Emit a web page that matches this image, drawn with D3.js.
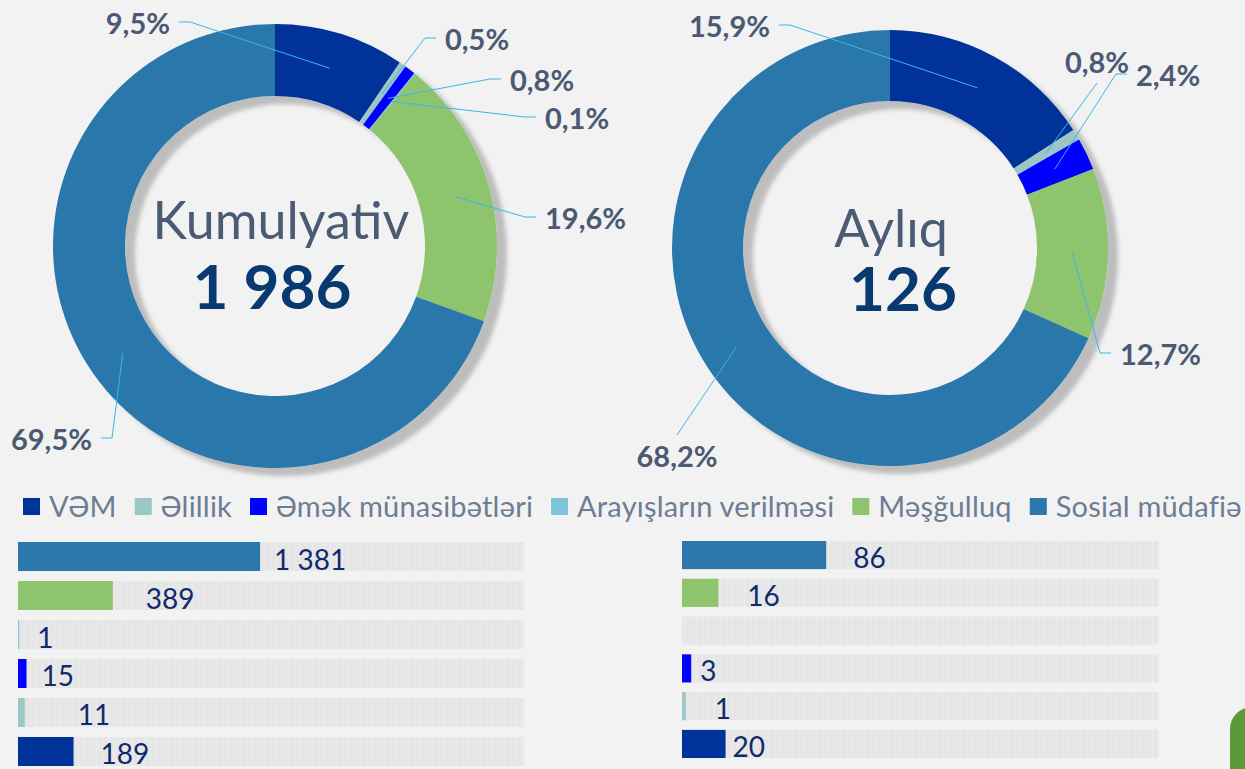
<!DOCTYPE html>
<html>
<head>
<meta charset="utf-8">
<script src="https://cdn.jsdelivr.net/npm/d3@7"></script>
<style>
  html, body { margin: 0; padding: 0; background: #f2f2f2; overflow: hidden; }
  svg { display: block; }
  text { font-family: Lato, "Open Sans", "Noto Sans", sans-serif; }
</style>
</head>
<body>
<svg id="chart" width="1245" height="769"></svg>
<script>
// ---- data ----
const categories = ["VƏM", "Əlillik", "Əmək münasibətləri", "Arayışların verilməsi", "Məşğulluq", "Sosial müdafiə"];
const cumulativeCounts = [189, 11, 15, 1, 389, 1381];
const monthlyCounts = [20, 1, 3, 0, 16, 86];
const cumulativeShares = [9.5, 0.5, 0.8, 0.1, 19.6, 69.5];
const monthlyShares = [15.9, 0.8, 2.4, 0, 12.7, 68.2];
const cumulativeTotal = 1986;
const monthlyTotal = 126;
const panelTitles = ["Kumulyativ", "Aylıq"];
const cumulativeAxisMax = 3740;
const monthlyAxisMax = 370;

// ---- styling / layout ----
const seriesColors = ["#003399", "#9ac6c6", "#0000ff", "#7cc6d8", "#8dc46d", "#2c77ab"];
// percentage label spots, relative to each donut centre: [x, y, side the leader attaches to]
const cumulativeLabelSpots = [[-105, -222, "end"], [170, -206, "start"], [235, -165, "start"], [270, -127, "start"], [270, -27, "start"], [-183, 194, "end"]];
const monthlyLabelSpots = [[-120, -221, "end"], [207, -185, "bottom"], [246, -172, "start"], null, [230, 107, "start"], [-213, 209, "top"]];
// gap between bar end and its value label
const cumulativeLabelGap = [27, 53, 15, 18, 33, 14];
const monthlyLabelGap = [7, 29, 9, 0, 29, 27];

const locale = d3.formatLocale({ decimal: ",", thousands: " ", grouping: [3], currency: ["", ""] });
const fmtInt = locale.format(",");
const fmtPct = v => locale.format(".1f")(v) + "%";

const svg = d3.select("#chart");
const defs = svg.append("defs");

defs.append("filter").attr("id", "ringShadow")
  .attr("x", "-20%").attr("y", "-20%").attr("width", "140%").attr("height", "140%")
  .append("feDropShadow")
  .attr("dx", 10).attr("dy", 8).attr("stdDeviation", 2)
  .attr("flood-color", "#000").attr("flood-opacity", 0.22);

const pat = defs.append("pattern").attr("id", "trackFill")
  .attr("patternUnits", "userSpaceOnUse").attr("width", 6).attr("height", 10);
pat.append("rect").attr("width", 6).attr("height", 10).attr("fill", "#e6e6e6");
pat.append("rect").attr("width", 1).attr("height", 10).attr("fill", "#ececec");

// ---- donuts ----
const donuts = [
  { title: panelTitles[0], total: cumulativeTotal, shares: cumulativeShares, spots: cumulativeLabelSpots,
    cx: 275, cy: 246, rOut: 222, rIn: 150, titleDx: 6, titleDy: -7, totalDx: -3, totalDy: 63 },
  { title: panelTitles[1], total: monthlyTotal, shares: monthlyShares, spots: monthlyLabelSpots,
    cx: 890, cy: 248, rOut: 218, rIn: 147, titleDx: 1, titleDy: -1, totalDx: 13, totalDy: 63 }
];

const pie = d3.pie().sort(null).value(d => d.share);

donuts.forEach(dn => {
  const g = svg.append("g").attr("transform", `translate(${dn.cx},${dn.cy})`);
  const data = categories.map((c, i) => ({ cat: c, share: dn.shares[i], color: seriesColors[i] }));
  const arcs = pie(data);
  const arc = d3.arc().innerRadius(dn.rIn).outerRadius(dn.rOut);
  const midR = (dn.rIn + dn.rOut) / 2;
  const midArc = d3.arc().innerRadius(midR).outerRadius(midR);

  g.append("g").attr("filter", "url(#ringShadow)")
    .selectAll("path")
    .data(arcs.filter(a => a.data.share > 0))
    .join("path")
    .attr("d", arc)
    .attr("fill", d => d.data.color);

  // leaders + percentage labels
  const lab = g.append("g");
  arcs.forEach((a, i) => {
    const spot = dn.spots[i];
    if (!spot || a.data.share <= 0) return;
    const [px, py] = midArc.centroid(a);
    const [lx, ly, side] = spot;
    let pts;
    if (side === "start") pts = [[px, py], [lx - 20, ly - 2], [lx - 9, ly - 2]];
    else if (side === "end") pts = [[px, py], [lx + 20, ly - 2], [lx + 9, ly - 2]];
    else if (side === "top") pts = [[px, py], [lx, ly - 22]];
    else pts = [[px, py], [lx, ly + 20]];
    lab.append("path")
      .attr("d", d3.line()(pts))
      .attr("fill", "none")
      .attr("stroke", "#3fb4ef")
      .attr("stroke-width", 1);
    lab.append("text")
      .attr("x", lx).attr("y", ly + 10)
      .attr("text-anchor", side === "start" ? "start" : side === "end" ? "end" : "middle")
      .attr("font-size", 29).attr("font-weight", 700)
      .attr("fill", "#4b5a72")
      .text(fmtPct(a.data.share));
  });

  g.append("text")
    .attr("x", dn.titleDx).attr("y", dn.titleDy)
    .attr("text-anchor", "middle")
    .attr("font-size", 52)
    .attr("fill", "#4b5b73")
    .text(dn.title);
  g.append("text")
    .attr("x", dn.totalDx).attr("y", dn.totalDy)
    .attr("text-anchor", "middle")
    .attr("font-size", 62).attr("font-weight", 700)
    .attr("fill", "#083a70")
    .text(fmtInt(dn.total));
});

// ---- legend ----
const legend = svg.append("g");
let lxPos = 23;
categories.forEach((c, i) => {
  legend.append("rect").attr("x", lxPos).attr("y", 498).attr("width", 17).attr("height", 17).attr("fill", seriesColors[i]);
  const t = legend.append("text")
    .attr("x", lxPos + 26).attr("y", 517)
    .attr("font-size", 29)
    .attr("letter-spacing", 0.2)
    .attr("fill", "#6d7d93")
    .text(c);
  lxPos += 26 + t.node().getComputedTextLength() + 18;
});

// ---- bars ----
const panels = [
  { counts: cumulativeCounts, axisMax: cumulativeAxisMax, exponent: 0.74, gaps: cumulativeLabelGap, x0: 18, width: 506, y0: 542, y1: 766 },
  { counts: monthlyCounts, axisMax: monthlyAxisMax, exponent: 0.82, gaps: monthlyLabelGap, x0: 682, width: 477, y0: 541, y1: 758 }
];
const rowOrder = categories.slice().reverse();

panels.forEach(p => {
  const g = svg.append("g");
  const y = d3.scaleBand().domain(rowOrder).range([p.y0, p.y1]).paddingInner(0.256).paddingOuter(0);
  const x = d3.scalePow().exponent(p.exponent).domain([0, p.axisMax]).range([p.x0, p.x0 + p.width]);
  const rows = categories.map((c, i) => ({ cat: c, value: p.counts[i], color: seriesColors[i], gap: p.gaps[i] }));

  g.selectAll("rect.track").data(rows).join("rect").attr("class", "track")
    .attr("x", p.x0).attr("y", d => y(d.cat))
    .attr("width", p.width).attr("height", y.bandwidth())
    .attr("fill", "url(#trackFill)");

  g.selectAll("rect.bar").data(rows.filter(d => d.value > 0)).join("rect").attr("class", "bar")
    .attr("x", p.x0).attr("y", d => y(d.cat))
    .attr("width", d => x(d.value) - p.x0).attr("height", y.bandwidth())
    .attr("fill", d => d.color);

  g.selectAll("text.val").data(rows.filter(d => d.value > 0)).join("text").attr("class", "val")
    .attr("x", d => x(d.value) + d.gap)
    .attr("y", d => y(d.cat) + y.bandwidth() / 2 + 13)
    .attr("font-size", 28)
    .attr("fill", "#102a6b")
    .text(d => fmtInt(d.value));
});

// corner accent
svg.append("rect")
  .attr("x", 1230).attr("y", 707).attr("width", 60).attr("height", 120).attr("rx", 22)
  .attr("fill", "#5b9a3b");
</script>
</body>
</html>
